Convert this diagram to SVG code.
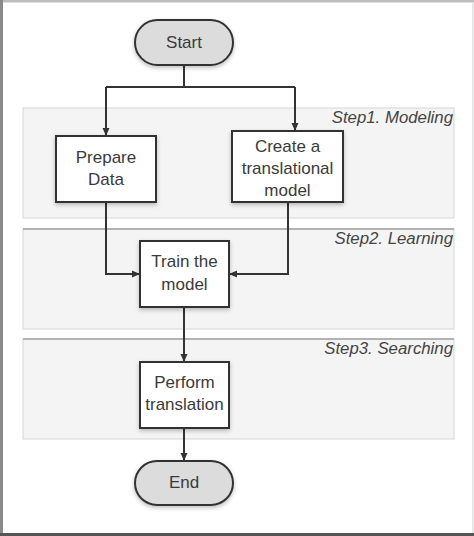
<svg xmlns="http://www.w3.org/2000/svg" width="474" height="536" viewBox="0 0 474 536">
<defs>
<marker id="arr" markerWidth="10" markerHeight="10" refX="9" refY="5" orient="auto" markerUnits="userSpaceOnUse">
<path d="M1,1.5 L9,5 L1,8.5 Z" fill="#333"/>
</marker>
<filter id="sh" x="-20%" y="-20%" width="140%" height="150%">
<feDropShadow dx="0" dy="2" stdDeviation="2" flood-color="#000" flood-opacity="0.25"/>
</filter>
</defs>
<style>
.band{fill:#f4f4f4;stroke:#d6d6d6;stroke-width:1}
.bandtop{stroke:#a0a0a0;stroke-width:1.5}
.box{fill:#fff;stroke:#333;stroke-width:2}
.term{fill:#dcdcdc;stroke:#333;stroke-width:2}
.t{font-family:"Liberation Sans",Arial,sans-serif;font-size:17px;fill:#3a3a3a;text-anchor:middle}
.lbl{font-family:"Liberation Sans",Arial,sans-serif;font-size:16.8px;font-style:italic;fill:#444;text-anchor:end}
.c{fill:none;stroke:#333;stroke-width:2}
</style>
<rect x="0" y="0" width="474" height="536" fill="#fff"/>
<rect x="0" y="0" width="474" height="2.5" fill="#bdbdbd"/>
<rect x="0" y="0" width="3" height="536" fill="#8a8a8a"/>
<rect x="472" y="2" width="1.5" height="532" fill="#e4e4e4"/>
<rect x="0" y="533" width="474" height="3" fill="#555"/>

<g id="bands">
<rect class="band" x="23" y="108" width="431" height="110"/>
<rect class="band" x="23" y="229" width="431" height="100"/>
<line class="bandtop" x1="23" y1="229" x2="454" y2="229"/>
<rect class="band" x="23" y="339" width="431" height="100"/>
<line class="bandtop" x1="23" y1="339" x2="454" y2="339"/>
<text class="lbl" x="453" y="123">Step1. Modeling</text>
<text class="lbl" x="453" y="244">Step2. Learning</text>
<text class="lbl" x="453" y="354">Step3. Searching</text>
</g>

<g id="connectors">
<path class="c" d="M184,65 V87 M106,87 H295"/>
<path class="c" d="M106,87 V136" marker-end="url(#arr)"/>
<path class="c" d="M295,87 V131" marker-end="url(#arr)"/>
<path class="c" d="M106,202 V274 H140" marker-end="url(#arr)"/>
<path class="c" d="M288,202 V274 H229" marker-end="url(#arr)"/>
<path class="c" d="M184,307 V362" marker-end="url(#arr)"/>
<path class="c" d="M184,428 V461" marker-end="url(#arr)"/>
</g>

<g id="start">
<rect class="term" x="135" y="20" width="98" height="45" rx="22.5" filter="url(#sh)"/>
<text class="t" x="184" y="48">Start</text>
</g>
<g id="prepare">
<rect class="box" x="56" y="136" width="100" height="66" filter="url(#sh)"/>
<text class="t" x="106" y="163">Prepare</text>
<text class="t" x="106" y="185">Data</text>
</g>
<g id="create">
<rect class="box" x="232" y="131" width="111" height="71" filter="url(#sh)"/>
<text class="t" x="287.5" y="152">Create a</text>
<text class="t" x="287.5" y="174">translational</text>
<text class="t" x="287.5" y="196">model</text>
</g>
<g id="train">
<rect class="box" x="140" y="241" width="89" height="66" filter="url(#sh)"/>
<text class="t" x="184.5" y="267">Train the</text>
<text class="t" x="184.5" y="290">model</text>
</g>
<g id="perform">
<rect class="box" x="140" y="362" width="89" height="66" filter="url(#sh)"/>
<text class="t" x="184.5" y="388">Perform</text>
<text class="t" x="184.5" y="410">translation</text>
</g>
<g id="end">
<rect class="term" x="135" y="461" width="98" height="44" rx="22" filter="url(#sh)"/>
<text class="t" x="184" y="488">End</text>
</g>
</svg>
